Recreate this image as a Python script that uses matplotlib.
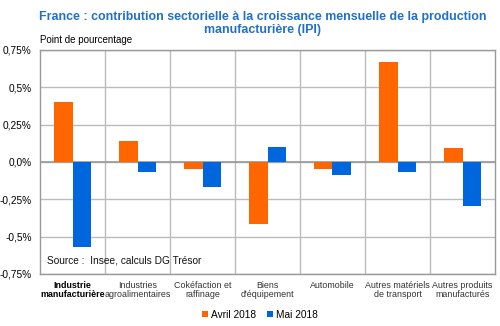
import matplotlib
matplotlib.use("Agg")
import matplotlib.pyplot as plt
import numpy as np
from matplotlib.ticker import FixedLocator

plt.rcParams['font.family'] = ['Liberation Sans', 'DejaVu Sans']

categories = ["Industrie\nmanufacturière", "Industries\nagroalimentaires",
              "Cokéfaction et\nraffinage", "Biens\nd'équipement", "Automobile",
              "Autres matériels\nde transport", "Autres produits\nmanufacturés"]
avril_2018 = [0.40, 0.14, -0.045, -0.415, -0.05, 0.67, 0.095]
mai_2018 = [-0.57, -0.065, -0.17, 0.10, -0.085, -0.07, -0.295]
y_ticks = [-0.75, -0.5, -0.25, 0.0, 0.25, 0.5, 0.75]
y_tick_labels = ["-0,75%", "-0,5%", "-0,25%", "0,0%", "0,25%", "0,5%", "0,75%"]

ORANGE = "#FF6600"
BLUE = "#0066DD"
GRID = "#BBBBBB"

fig = plt.figure(figsize=(5.0, 3.26), dpi=100)
ax = fig.add_axes([0.08, 0.16, 0.91, 0.687])

x = np.arange(len(categories))
w = 0.28
ax.bar(x - w / 2, avril_2018, width=w, color=ORANGE, label="Avril 2018", zorder=3)
ax.bar(x + w / 2, mai_2018, width=w, color=BLUE, label="Mai 2018", zorder=3)

ax.set_xlim(-0.5, len(categories) - 0.5)
ax.set_ylim(-0.75, 0.75)
ax.set_yticks(y_ticks)
ax.set_yticklabels(y_tick_labels, fontsize=7.3)
ax.tick_params(axis='y', length=0, pad=6)

ax.set_xticks(x)
ax.set_xticklabels(categories, fontsize=6.4, color="#333333", linespacing=1.1)
ax.tick_params(axis='x', length=0, pad=5)
ax.get_xticklabels()[0].set_fontweight('bold')
ax.get_xticklabels()[0].set_color('black')

ax.xaxis.set_minor_locator(FixedLocator(np.arange(0.5, len(categories) - 1, 1.0)))
ax.tick_params(axis='x', which='minor', length=0)
ax.grid(True, which='minor', axis='x', color=GRID, lw=1.0, zorder=0)
ax.grid(True, which='major', axis='y', color=GRID, lw=1.0, zorder=0)
ax.axhline(0, color="#999999", lw=1.2, zorder=2)

for s in ax.spines.values():
    s.set_color("#999999")
    s.set_linewidth(1.0)

ax.text(0.015, 0.06, "Source :  Insee, calculs DG Trésor", transform=ax.transAxes,
        fontsize=7.3, ha='left', va='center', color="#111111")
fig.text(0.08, 0.862, "Point de pourcentage", fontsize=7, ha='left', va='bottom')

fig.suptitle("France : contribution sectorielle à la croissance mensuelle de la production\nmanufacturière (IPI)",
             x=0.525, y=0.965, fontsize=8.9, fontweight='bold', color="#2070C8", linespacing=1.1)

fig.legend(loc='center', bbox_to_anchor=(0.52, 0.035), ncol=2, frameon=False,
           fontsize=7.3, handlelength=0.6, handleheight=0.6, handletextpad=0.3,
           columnspacing=1.0)

fig.savefig("out.png", dpi=100, facecolor="white")
